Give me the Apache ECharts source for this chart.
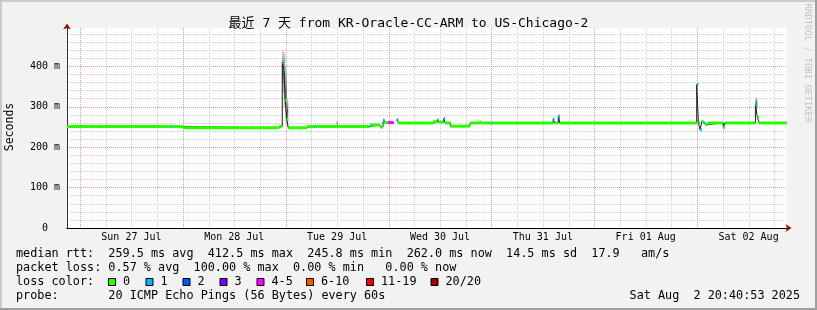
<!DOCTYPE html>
<html><head><meta charset="utf-8">
<script src="https://cdn.jsdelivr.net/npm/echarts@6/dist/echarts.min.js"></script>
<style>html,body{margin:0;padding:0;background:#f2f2f2}#c{width:817px;height:310px}</style>
</head><body><div id="c"></div>
<script>
// ---------- data (hours since Sun 27 Jul 00:00) ----------
const chartTitle = '最近 7 天 from KR-Oracle-CC-ARM to US-Chicago-2';
const dayLabels = ['Sun 27 Jul','Mon 28 Jul','Tue 29 Jul','Wed 30 Jul','Thu 31 Jul','Fri 01 Aug','Sat 02 Aug'];
const dayLabelHours = [12, 36, 60, 84, 108, 132, 156];
const gridHours = [0,6,12,18,24,30,36,42,48,54,60,66,72,78,84,90,96,102,108,114,120,126,132,138,144,150,156,162];
const xMin = -3.03, xMax = 164.97;
const yMax = 495;

// median RTT segments (ms) and lost pings out of 20
const segStart  = [-3.03, 21.1, 21.35, 24.0, 46.5, 47.2, 47.55, 47.9, 48.25, 48.6, 52.9, 54.6, 54.85, 67.6, 67.85, 70.0, 70.7, 71.1, 71.9, 73.9, 74.3, 82.4, 83.4, 83.7, 84.9, 85.2, 86.4, 91.0, 93.2, 93.6, 96.2, 96.45, 110.4, 110.75, 111.6, 111.95, 143.9, 144.3, 144.7, 145.1, 145.5, 145.9, 146.4, 150.1, 150.5, 150.8, 157.6, 158.05, 158.5];
const segEnd    = [21.1, 21.35, 24.0, 46.5, 47.2, 47.55, 47.9, 48.25, 48.6, 52.9, 54.6, 54.85, 67.6, 67.85, 70.0, 70.7, 71.1, 71.9, 73.2, 74.3, 82.4, 83.4, 83.7, 84.9, 85.2, 86.4, 91.0, 93.2, 93.6, 96.2, 96.45, 110.4, 110.75, 111.6, 111.95, 143.9, 144.3, 144.7, 145.1, 145.5, 145.9, 146.4, 150.1, 150.5, 150.8, 157.6, 158.05, 158.5, 164.97];
const segMedian = [251, 251, 251, 248, 252, 410, 392, 316, 269, 248, 251, 251, 251, 255, 255, 250, 263, 261, 261, 268, 260, 263, 268, 262, 271, 260, 252, 260, 262, 260, 260, 260, 269, 260, 275, 260, 355, 260, 243, 264, 260, 256, 260, 249, 260, 260, 305, 273, 260];
const segLoss   = [0, 1, 0, 0, 0, 1, 1, 0, 0, 0, 0, 1, 0, 1, 0, 0, 1, 0, 4, 1, 0, 0, 1, 0, 1, 0, 0, 0, 0, 0, 1, 0, 1, 0, 1, 0, 1, 0, 1, 0, 1, 0, 0, 0, 1, 0, 1, 0, 0];

// smoke (spread of the 20 pings)
const smokeStart = [47.2, 47.55, 47.9, 48.25, 59.9, 70.7, 111.6, 157.6];
const smokeEnd   = [47.55, 47.9, 48.25, 48.6, 60.1, 71.1, 111.95, 158.05];
const smokeLow   = [335, 300, 262, 252, 250, 258, 262, 290];
const smokeHigh  = [442, 435, 400, 320, 266, 272, 282, 323];

const lossLabels = ['0','1','2','3','4-5','6-10','11-19','20/20'];
const lossColors = ['#26ff00','#00b8ff','#0059ff','#7e00ff','#ff00ff','#ff5500','#ff0000','#a10000'];

const legendLines = [
  'median rtt:  259.5 ms avg  412.5 ms max  245.8 ms min  262.0 ms now  14.5 ms sd  17.9   am/s',
  'packet loss: 0.57 % avg  100.00 % max  0.00 % min   0.00 % now',
  'loss color:',
  'probe:       20 ICMP Echo Pings (56 Bytes) every 60s'
];
const stampText = 'Sat Aug  2 20:40:53 2025';

// ---------- build ----------
const MONO = "'DejaVu Sans Mono', 'Noto Sans CJK SC', monospace";
const GRID_RED = '#e59a9a', GRID_GRAY = '#cccccc';
function lossIndex(n) {
  if (n <= 3) return n;
  if (n <= 5) return 4;
  if (n <= 10) return 5;
  if (n <= 19) return 6;
  return 7;
}
const segData = segStart.map((s, i) => [s, segEnd[i], segMedian[i], segLoss[i]]);
const smokeData = smokeStart.map((s, i) => [s, smokeEnd[i], smokeLow[i], smokeHigh[i]]);
const medLine = [];
segStart.forEach((s, i) => {
  if (i > 0 && Math.abs(s - segEnd[i - 1]) > 1e-6) medLine.push([segEnd[i - 1], null]);
  medLine.push([s, segMedian[i]]);
  medLine.push([segEnd[i], segMedian[i]]);
});

const graphics = [];
// frame
graphics.push({type:'rect', shape:{x:0,y:0,width:817,height:2}, style:{fill:'#cbcbcb'}, silent:true});
graphics.push({type:'rect', shape:{x:0,y:0,width:2,height:310}, style:{fill:'#cbcbcb'}, silent:true});
graphics.push({type:'rect', shape:{x:815,y:0,width:2,height:310}, style:{fill:'#9e9e9e'}, silent:true});
graphics.push({type:'rect', shape:{x:0,y:308,width:817,height:2}, style:{fill:'#9e9e9e'}, silent:true});
// legend text
const lineY = [254, 268, 282, 296];
legendLines.forEach((t, i) => {
  graphics.push({type:'text', x:16, y:lineY[i], silent:true,
    style:{text:t, fontFamily:MONO, fontSize:11.8, fill:'#000', align:'left', verticalAlign:'middle'}});
});
const boxX = [108, 145.5, 182.5, 219.5, 256.5, 306, 366, 430.5];
lossLabels.forEach((lab, i) => {
  const bx = boxX[i];
  graphics.push({type:'rect', shape:{x:bx + 0.5, y:278.5, width:7, height:7}, style:{fill:lossColors[i], stroke:'#000', lineWidth:1}, silent:true});
  graphics.push({type:'text', x:bx + 15, y:282, silent:true,
    style:{text:lab, fontFamily:MONO, fontSize:11.8, fill:'#000', align:'left', verticalAlign:'middle'}});
});
graphics.push({type:'text', x:800, y:296, silent:true,
  style:{text:stampText, fontFamily:MONO, fontSize:11.8, fill:'#000', align:'right', verticalAlign:'middle'}});
graphics.push({type:'text', x:10.5, y:127, rotation:Math.PI/2, silent:true,
  style:{text:'Seconds', fontFamily:MONO, fontSize:11.5, fill:'#000', align:'center', verticalAlign:'middle'}});
graphics.push({type:'text', x:807.5, y:63, rotation:-Math.PI/2, silent:true,
  style:{text:'RRDTOOL / TOBI OETIKER', fontFamily:MONO, fontSize:9, fill:'#c2c2c2', align:'center', verticalAlign:'middle'}});

const chart = echarts.init(document.getElementById('c'), null, {renderer:'canvas'});
chart.setOption({
  animation: false,
  backgroundColor: '#f2f2f2',
  title: {text: chartTitle, left: 'center', top: 12,
    textStyle: {fontFamily: MONO, fontSize: 13, fontWeight: 'normal', color: '#000'}},
  grid: {left: 67, right: 30, top: 28, bottom: 82, show: true, backgroundColor: '#fff', borderWidth: 0},
  xAxis: [
    {type:'value', min:xMin, max:xMax, position:'bottom',
      axisLine:{show:true, onZero:false, symbol:['none','arrow'], symbolSize:[6,6], symbolOffset:[0,4.5], lineStyle:{color:'#8b1010', width:1}},
      axisTick:{show:false}, axisLabel:{show:false}, splitLine:{show:false}},
    {type:'value', min:xMin, max:xMax, position:'bottom',
      axisLine:{show:true, onZero:false, lineStyle:{color:'#000', width:1}},
      axisTick:{show:false},
      axisLabel:{show:true, interval:0, customValues: dayLabelHours, margin:4, color:'#000', fontFamily:MONO, fontSize:10,
        formatter: v => dayLabels[dayLabelHours.indexOf(Math.round(v))] || ''},
      splitLine:{show:false}}
  ],
  yAxis: [
    {type:'value', min:0, max:yMax, interval:20, position:'left',
      axisLine:{show:true, onZero:false, symbol:['none','arrow'], symbolSize:[6,6], symbolOffset:[0,4.5], lineStyle:{color:'#8b1010', width:1}},
      axisTick:{show:false}, axisLabel:{show:false},
      splitLine:{show:true, showMinLine:false, showMaxLine:false, lineStyle:{color:GRID_GRAY, type:[1,1], width:1}}},
    {type:'value', min:0, max:yMax, interval:100, position:'left',
      axisLine:{show:true, onZero:false, lineStyle:{color:'#333', width:1}},
      axisTick:{show:false},
      axisLabel:{show:true, margin:7, color:'#000', fontFamily:MONO, fontSize:10,
        formatter: v => (v === 0 ? '0  ' : (v % 100 === 0 ? v + ' m' : ''))},
      splitLine:{show:true, showMinLine:false, showMaxLine:false, lineStyle:{color:GRID_RED, type:[1,1], width:1}}}
  ],
  series: [
    {type:'custom', name:'vgrid', xAxisIndex:1, yAxisIndex:1, clip:true, silent:true, z:1,
      encode:{x:0},
      data: gridHours.map(h => [h]),
      renderItem: (params, api) => {
        const h = api.value(0);
        const top = api.coord([h, yMax]);
        const bot = api.coord([h, 0]);
        const x = Math.round(top[0]) + 0.5;
        return {type:'line', shape:{x1:x, y1:top[1], x2:x, y2:bot[1]},
          style:{stroke: (Math.round(h) % 24 === 0) ? GRID_RED : GRID_GRAY, lineWidth:1, lineDash:[1,1]}};
      }},
    {type:'custom', name:'smoke', xAxisIndex:1, yAxisIndex:1, clip:true, silent:true, z:2,
      encode:{x:[0,1], y:[2,3]},
      data: smokeData,
      renderItem: (params, api) => {
        const a = api.coord([api.value(0), api.value(3)]);
        const b = api.coord([api.value(1), api.value(2)]);
        return {type:'rect', shape:{x:a[0], y:a[1], width:Math.max(b[0]-a[0],1), height:b[1]-a[1]},
          style:{fill: new echarts.graphic.LinearGradient(0,0,0,1,[
            {offset:0, color:'#d4d4d4'},{offset:0.45, color:'#555555'},{offset:1, color:'#cccccc'}])}};
      }},
    {type:'line', name:'median', xAxisIndex:1, yAxisIndex:1, data: medLine, showSymbol:false, symbol:'none',
      connectNulls:false, silent:true, z:3, lineStyle:{color:'#202020', width:1}},
    {type:'custom', name:'loss', xAxisIndex:1, yAxisIndex:1, clip:true, silent:true, z:4,
      encode:{x:[0,1], y:2},
      data: segData,
      renderItem: (params, api) => {
        const v = api.value(2);
        const a = api.coord([api.value(0), v]);
        const b = api.coord([api.value(1), v]);
        return {type:'rect', shape:{x:a[0], y:a[1]-1.5, width:Math.max(b[0]-a[0],1), height:3},
          style:{fill: lossColors[lossIndex(api.value(3))]}};
      }}
  ],
  graphic: graphics
});
</script></body></html>
